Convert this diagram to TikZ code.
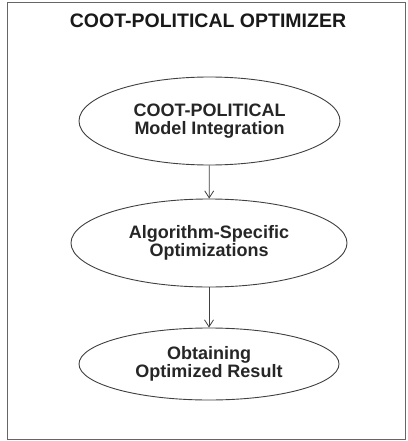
\documentclass[tikz,border=0pt]{standalone}
\usepackage{fontspec}
\setmainfont{Liberation Sans}
\usetikzlibrary{shapes.geometric,arrows.meta}
\begin{document}
\begin{tikzpicture}[x=1pt,y=-1pt,
  stage/.style={ellipse,draw=black!75,line width=0.9pt,fill=white,inner sep=0pt,align=center,
    font=\fontsize{18}{17.5}\selectfont\bfseries,text=black!85},
  flow/.style={draw=black!75,line width=0.8pt,-{Straight Barb[length=7pt,width=9pt]}}]
\useasboundingbox (0,0) rectangle (407,441);
\fill[white] (0,0) rectangle (407,441);
\draw[black!60,line width=1pt] (7,3) rectangle (405.5,439.5);
\node[font=\fontsize{19.5}{20}\selectfont\bfseries,text=black!90] (title) at (208,21) {COOT-POLITICAL OPTIMIZER};
\node[stage,minimum width=261pt,minimum height=88pt] (a) at (209.5,121) {COOT-POLITICAL\\Model Integration};
\node[stage,minimum width=276pt,minimum height=88pt] (b) at (209,243) {Algorithm-Specific\\Optimizations};
\node[stage,minimum width=260pt,minimum height=72pt] (c) at (209,364) {Obtaining\\Optimized Result};
\draw[flow] (a) -- (b);
\draw[flow] (b) -- (c);
\end{tikzpicture}
\end{document}
